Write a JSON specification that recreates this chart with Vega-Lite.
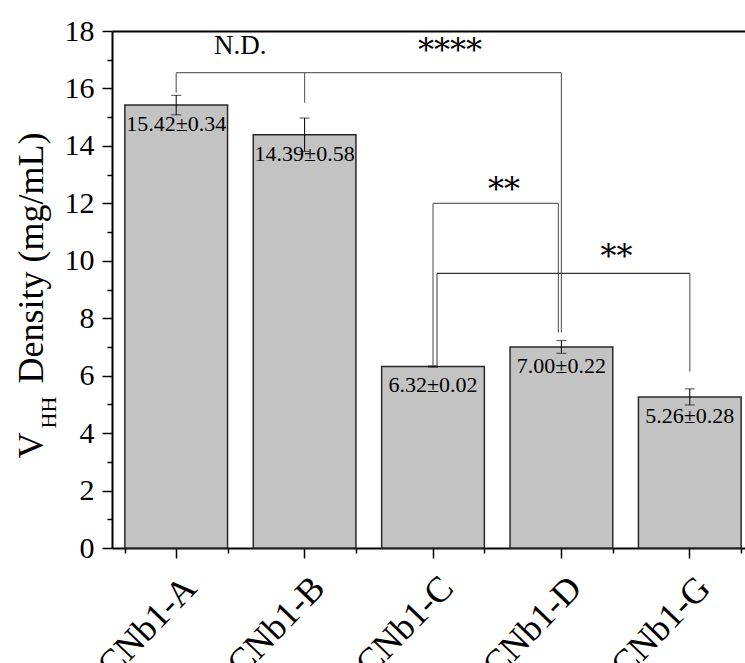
{
  "$schema": "https://vega.github.io/schema/vega-lite/v6.json",
  "width": 642,
  "height": 517,
  "autosize": "none",
  "padding": {"left": 112, "top": 31, "right": -9, "bottom": 115},
  "background": "white",
  "view": {"stroke": null, "fill": null},
  "config": {
    "view": {"stroke": null, "strokeWidth": 0},
    "font": "Liberation Serif",
    "axis": {"grid": false, "domain": false, "domainColor": "transparent", "tickColor": "transparent", "gridColor": "transparent", "labelFont": "Liberation Serif", "titleFont": "Liberation Serif", "titleFontWeight": "normal", "labelColor": "#000", "titleColor": "#000"}
  },
  "datasets": {
    "bars": [
      {"cat": "CNb1-A", "mean": 15.42, "lo": 15.08, "hi": 15.76, "label": "15.42±0.34"},
      {"cat": "CNb1-B", "mean": 14.39, "lo": 13.81, "hi": 14.97, "label": "14.39±0.58"},
      {"cat": "CNb1-C", "mean": 6.32, "lo": 6.30, "hi": 6.34, "label": "6.32±0.02"},
      {"cat": "CNb1-D", "mean": 7.00, "lo": 6.78, "hi": 7.22, "label": "7.00±0.22"},
      {"cat": "CNb1-G", "mean": 5.26, "lo": 4.98, "hi": 5.54, "label": "5.26±0.28"}
    ],
    "brackets": [
      {"g": "v0", "x": "CNb1-A", "y": 15.85, "y2": 16.55},
      {"g": "v0", "x": "CNb1-B", "y": 15.5, "y2": 16.55},
      {"g": "v0", "x": "CNb1-D", "y": 7.5, "y2": 16.55},
      {"g": "v0", "x": "CNb1-C", "y": 6.37, "y2": 12.0},
      {"g": "v0", "x": "CNb1-G", "y": 6.14, "y2": 9.56},
      {"g": "v1", "x": "CNb1-D", "y": 7.5, "y2": 12.0},
      {"g": "v2", "x": "CNb1-C", "y": 6.37, "y2": 9.56},
      {"g": "h0", "x": "CNb1-A", "x2": "CNb1-D", "y": 16.55},
      {"g": "h1", "x": "CNb1-C", "x2": "CNb1-D", "y": 12.0},
      {"g": "h2", "x": "CNb1-C", "x2": "CNb1-G", "y": 9.56}
    ]
  },
  "resolve": {"axis": {"x": "independent", "y": "independent"}},
  "layer": [
    {
      "data": {"name": "bars"},
      "mark": {"type": "bar", "fill": "#c3c3c3", "stroke": "#2a2a2a", "strokeWidth": 1.5},
      "encoding": {
        "x": {"field": "cat", "type": "nominal",
          "scale": {"domain": ["CNb1-A", "CNb1-B", "CNb1-C", "CNb1-D", "CNb1-G"], "paddingInner": 0.2, "paddingOuter": 0.1},
          "axis": {"orient": "bottom", "title": null, "labelAngle": -46, "labelAlign": "right", "labelBaseline": "top", "labelFontSize": 36, "labelPadding": 12, "labelOffset": 2, "tickSize": 10, "tickWidth": 1.5, "tickColor": "#000", "domain": true, "domainWidth": 2, "domainColor": "#000"}},
        "y": {"field": "mean", "type": "quantitative",
          "scale": {"domain": [0, 18], "nice": false, "zero": true},
          "axis": {"orient": "left", "values": [0,1,2,3,4,5,6,7,8,9,10,11,12,13,14,15,16,17,18],
            "labelExpr": "datum.value % 2 === 0 ? datum.label : ''", "labelOverlap": false, "labelFontSize": 30, "labelPadding": 8,
            "tickSize": {"condition": {"test": "datum.value % 2 === 0", "value": 10}, "value": 5},
            "tickWidth": 1.5, "tickColor": "#000", "domain": true, "domainWidth": 2, "domainColor": "#000",
            "title": "Density (mg/mL)", "titleFontSize": 36, "titleAngle": -90, "titleAlign": "left", "titleBaseline": "alphabetic", "titleX": -70, "titleY": 352}}
      }
    },
    {
      "data": {"name": "bars"},
      "mark": {"type": "rule", "color": "#000", "strokeWidth": 1},
      "encoding": {
        "x": {"field": "cat", "type": "nominal", "bandPosition": 0.5, "axis": null},
        "y": {"field": "lo", "type": "quantitative", "axis": null},
        "y2": {"field": "hi"}
      }
    },
    {
      "data": {"name": "bars"},
      "mark": {"type": "tick", "orient": "horizontal", "color": "#000", "size": 10, "thickness": 1},
      "encoding": {
        "x": {"field": "cat", "type": "nominal", "bandPosition": 0.5, "axis": null},
        "y": {"field": "hi", "type": "quantitative", "axis": null}
      }
    },
    {
      "data": {"name": "bars"},
      "mark": {"type": "tick", "orient": "horizontal", "color": "#000", "size": 10, "thickness": 1},
      "encoding": {
        "x": {"field": "cat", "type": "nominal", "bandPosition": 0.5, "axis": null},
        "y": {"field": "lo", "type": "quantitative", "axis": null}
      }
    },
    {
      "data": {"name": "bars"},
      "mark": {"type": "text", "fontSize": 22, "baseline": "middle", "align": "center", "dy": 19, "color": "#000"},
      "encoding": {
        "x": {"field": "cat", "type": "nominal", "bandPosition": 0.5, "axis": null},
        "y": {"field": "mean", "type": "quantitative", "axis": null},
        "text": {"field": "label"}
      }
    },
    {
      "data": {"name": "brackets"},
      "transform": [{"filter": "datum.g === 'v0'"}],
      "mark": {"type": "rule", "color": "#666", "strokeWidth": 1.2},
      "encoding": {
        "x": {"field": "x", "type": "nominal", "bandPosition": 0.5,
          "axis": {"orient": "bottom", "title": null, "labels": false, "domain": false, "tickBand": "extent", "tickExtra": false, "grid": false, "tickSize": 5, "tickWidth": 1.5, "tickColor": "#000"}},
        "y": {"field": "y", "type": "quantitative",
          "axis": {"orient": "left", "labels": false, "ticks": false, "domain": false, "title": "V", "titleFontSize": 36, "titleAngle": -90, "titleAlign": "left", "titleBaseline": "alphabetic", "titleX": -70, "titleY": 427}},
        "y2": {"field": "y2"}
      }
    },
    {
      "data": {"name": "brackets"},
      "transform": [{"filter": "datum.g === 'v1'"}],
      "mark": {"type": "rule", "color": "#666", "strokeWidth": 1.2, "xOffset": -3},
      "encoding": {
        "x": {"field": "x", "type": "nominal", "bandPosition": 0.5, "axis": null},
        "y": {"field": "y", "type": "quantitative", "axis": null},
        "y2": {"field": "y2"}
      }
    },
    {
      "data": {"name": "brackets"},
      "transform": [{"filter": "datum.g === 'v2'"}],
      "mark": {"type": "rule", "color": "#555", "strokeWidth": 1.2, "xOffset": 4},
      "encoding": {
        "x": {"field": "x", "type": "nominal", "bandPosition": 0.5, "axis": null},
        "y": {"field": "y", "type": "quantitative", "axis": null},
        "y2": {"field": "y2"}
      }
    },
    {
      "data": {"name": "brackets"},
      "transform": [{"filter": "datum.g === 'h0'"}],
      "mark": {"type": "rule", "color": "#666", "strokeWidth": 1.2},
      "encoding": {
        "x": {"field": "x", "type": "nominal", "bandPosition": 0.5,
          "axis": {"orient": "top", "title": null, "labels": false, "ticks": false, "domain": true, "domainWidth": 2, "domainColor": "#000"}},
        "x2": {"field": "x2", "bandPosition": 0.5},
        "y": {"field": "y", "type": "quantitative",
          "axis": {"orient": "left", "labels": false, "ticks": false, "domain": false, "title": "HH", "titleFontSize": 22, "titleAngle": -90, "titleAlign": "left", "titleBaseline": "alphabetic", "titleX": -57, "titleY": 397}}
      }
    },
    {
      "data": {"name": "brackets"},
      "transform": [{"filter": "datum.g === 'h1'"}],
      "mark": {"type": "rule", "color": "#666", "strokeWidth": 1.2, "x2Offset": -3},
      "encoding": {
        "x": {"field": "x", "type": "nominal", "bandPosition": 0.5, "axis": null},
        "x2": {"field": "x2", "bandPosition": 0.5},
        "y": {"field": "y", "type": "quantitative", "axis": null}
      }
    },
    {
      "data": {"name": "brackets"},
      "transform": [{"filter": "datum.g === 'h2'"}],
      "mark": {"type": "rule", "color": "#333", "strokeWidth": 1.2, "xOffset": 4},
      "encoding": {
        "x": {"field": "x", "type": "nominal", "bandPosition": 0.5, "axis": null},
        "x2": {"field": "x2", "bandPosition": 0.5},
        "y": {"field": "y", "type": "quantitative", "axis": null}
      }
    },
    {
      "data": {"values": [{"x": "CNb1-A", "y": 17.19, "t": "N.D."}]},
      "mark": {"type": "text", "fontSize": 27, "align": "center", "baseline": "alphabetic", "dx": 64, "color": "#000"},
      "encoding": {
        "x": {"field": "x", "type": "nominal", "bandPosition": 0.5, "axis": null},
        "y": {"field": "y", "type": "quantitative", "axis": null},
        "text": {"field": "t"}
      }
    },
    {
      "data": {"values": [{"x": "CNb1-C", "y": 16.94, "t": "****"}]},
      "mark": {"type": "text", "font": "DejaVu Serif", "fontSize": 32, "align": "center", "baseline": "alphabetic", "dx": 17, "color": "#000"},
      "encoding": {
        "x": {"field": "x", "type": "nominal", "bandPosition": 0.5, "axis": null},
        "y": {"field": "y", "type": "quantitative", "axis": null},
        "text": {"field": "t"}
      }
    },
    {
      "data": {"values": [{"x": "CNb1-C", "y": 12.13, "t": "**"}]},
      "mark": {"type": "text", "font": "DejaVu Serif", "fontSize": 32, "align": "center", "baseline": "alphabetic", "dx": 71, "color": "#000"},
      "encoding": {
        "x": {"field": "x", "type": "nominal", "bandPosition": 0.5, "axis": null},
        "y": {"field": "y", "type": "quantitative", "axis": null},
        "text": {"field": "t"}
      }
    },
    {
      "data": {"values": [{"x": "CNb1-D", "y": 9.79, "t": "**"}]},
      "mark": {"type": "text", "font": "DejaVu Serif", "fontSize": 32, "align": "center", "baseline": "alphabetic", "dx": 55, "color": "#000"},
      "encoding": {
        "x": {"field": "x", "type": "nominal", "bandPosition": 0.5, "axis": null},
        "y": {"field": "y", "type": "quantitative", "axis": null},
        "text": {"field": "t"}
      }
    }
  ]
}
